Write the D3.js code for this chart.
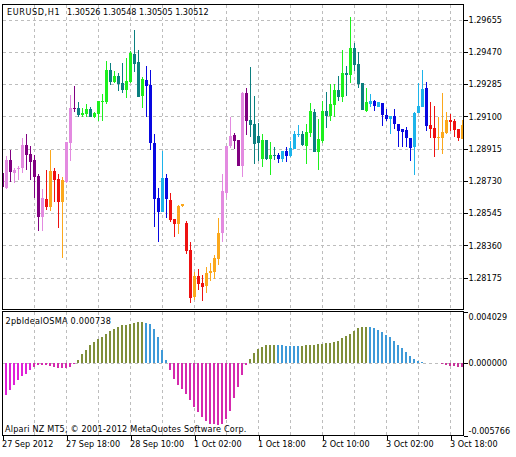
<!DOCTYPE html>
<html><head><meta charset="utf-8">
<script src="https://cdn.jsdelivr.net/npm/d3@7/dist/d3.min.js"></script>
<style>html,body{margin:0;padding:0;background:#fff}svg{display:block}text{font-family:"DejaVu Sans Condensed","DejaVu Sans",sans-serif;font-stretch:condensed;font-size:9px;fill:#000}</style>
</head><body><svg id="c" width="516" height="457"></svg>
<script>
// prices in points (1 point = 0.00001)
const highs=[128799,128873,128908,128804,128816,128976,128999,128931,128879,128770,128684,128793,128908,128804,128770,128753,128953,129223,129275,129183,129149,129172,129154,129126,129189,129229,129418,129407,129361,129349,129407,129435,129476,129596,129481,129326,129390,129367,128999,128690,128902,128770,128661,128512,128592,128598,128500,128380,128208,128225,128191,128237,128260,128305,128518,128770,128931,129097,129005,128965,129240,129263,129384,129217,129063,128999,128965,128953,128925,128890,128902,128925,128959,129017,129051,129017,129057,129177,129143,129086,129189,129240,129286,129286,129332,129481,129390,129671,129521,129470,129292,129263,129229,129194,129183,129177,129143,129103,129143,129057,129028,129040,128976,129126,129292,129367,129298,129183,129160,129097,129235,129126,129114,129086,129028,129080];
const lows=[128695,128684,128724,128718,128735,128776,128793,128735,128632,128443,128443,128563,128558,128609,128460,128288,128718,128844,129126,129097,129097,129097,129097,129091,129074,129074,129172,129281,129292,129246,129235,129206,129292,129355,129212,129149,129097,128908,128466,128380,128552,128518,128495,128409,128426,128581,128311,128030,128047,128105,128041,128087,128156,128168,128248,128380,128632,128919,128913,128816,128753,128994,128982,128827,128844,128810,128850,128764,128850,128833,128839,128839,128867,128913,128982,128931,128827,128982,128896,128793,128948,129034,129074,129097,129189,129183,129217,129292,129361,129263,129137,129126,129154,129131,129154,129045,129074,129000,129028,128925,128925,128925,128844,128764,129120,129154,129017,128976,128867,128908,128885,129000,129017,128982,128959,128971];
const bodyHighs=[128776,128850,128850,128793,128804,128936,128936,128885,128850,128758,128632,128627,128787,128787,128741,128735,128953,129149,129149,129149,129120,129143,129143,129120,129189,129189,129367,129367,129332,129332,129292,129304,129464,129458,129412,129315,129309,129281,128948,128632,128747,128747,128621,128512,128586,128598,128489,128334,128185,128185,128145,128202,128214,128288,128431,128672,128931,128988,128994,128965,129235,129235,129080,129057,128988,128965,128965,128879,128879,128879,128902,128902,128919,128999,128999,128999,129011,129131,129126,128971,129131,129131,129172,129252,129252,129349,129349,129493,129493,129401,129292,129183,129189,129189,129183,129177,129108,129103,129103,129057,129028,129022,128976,129120,129160,129258,129263,129051,129034,128982,129011,129080,129080,129074,129028,129051];
const bodyLows=[128695,128690,128781,128776,128799,128804,128879,128839,128753,128523,128523,128581,128581,128735,128609,128609,128724,128948,129143,129108,129108,129114,129097,129097,129114,129183,129183,129298,129298,129286,129252,129252,129298,129401,129212,129217,129275,128948,128627,128552,128552,128627,128506,128483,128483,128586,128328,128059,128064,128139,128122,128128,128202,128208,128282,128431,128661,128931,128959,128816,128816,129074,129051,128942,128948,128856,128856,128856,128873,128856,128856,128873,128873,128913,128994,128936,128931,129005,128896,128896,128959,129103,129103,129166,129212,129212,129338,129338,129395,129286,129137,129131,129172,129160,129154,129108,129086,129086,129057,129017,129011,128976,128919,128925,129120,129154,129045,129028,128976,128976,128976,129005,129068,129023,128976,128971];
const candleColors="PVPVVVPPPPVRORROVVPTGGTGGGGTGTTGGTTGBBBBSBRROORRORROOOOVVVPPVPTTTGTGTBSBSSSTGGTGGTGGTGTGTTTGSBSBBSBBBBBSSSBRROOORRRO".split("");
// oscillator, millionths; null where no bar is drawn
const osma=[null,-2481,-2090,-1698,-1358,-1045,-836,-522,-313,-183,-131,-131,-235,-313,-366,-418,-418,-313,-78,261,705,1045,1384,1619,1855,2063,2299,2481,2690,2847,2952,3004,3082,3161,3213,3213,3134,3082,2690,2037,1045,261,-522,-1228,-1698,-2011,-2429,-2873,-3474,-3866,-4258,-4571,-4754,-4780,-4884,-4780,-4362,-3735,-2743,-1907,-966,-183,340,784,1097,1280,1384,1437,1437,1437,1410,1358,1358,1358,1332,1332,1384,1437,1437,1463,1489,1541,1593,1646,1750,1959,2090,2299,2534,2743,2847,2847,2847,2716,2560,2403,2220,2011,1698,1437,1175,862,522,313,131,78,26,26,-26,-26,-52,-183,-235,-261,-313,-340];
const priceTicks=[1.29655,1.29470,1.29285,1.29100,1.28915,1.28730,1.28545,1.28360,1.28175];
const osmaTicks=[0.004029,0,-0.005766];
const timeTicks=[[0,"27 Sep 2012"],[16,"27 Sep 18:00"],[32,"28 Sep 10:00"],[48,"1 Oct 02:00"],[64,"1 Oct 18:00"],[80,"2 Oct 10:00"],[96,"3 Oct 02:00"],[112,"3 Oct 18:00"]];
const gridBars=d3.range(8,116,8);
const palette={V:"#E38AE0",P:"#800080",R:"#EE1111",O:"#FBA81C",G:"#1DF01D",T:"#0B7F7F",B:"#0808E0",S:"#1DB4EA"};
const L=2.5,R=463.5,T=4.5,MB=309.5,ST=311.5,SB=435.5;
const svg=d3.select("#c");
const x=d3.scaleLinear().domain([0,115]).range([2.5,462.5]);
const yP=d3.scaleLinear().domain([1.28175,1.29655]).range([277.5,19.5]);
const yO=d3.scaleLinear().domain([-0.005766,0.004029]).range([436.7,311.7]);
const px=v=>v/1e5;
const defs=svg.append("defs");
defs.append("clipPath").attr("id","cm").append("rect").attr("x",L).attr("y",T).attr("width",R-L).attr("height",MB-T);
defs.append("clipPath").attr("id","cs").append("rect").attr("x",L).attr("y",ST).attr("width",R-L).attr("height",SB-ST);
const g=svg.append("g").attr("shape-rendering","crispEdges");
// grid
g.selectAll(".v").data(gridBars).join("line").attr("x1",d=>Math.floor(x(d))+.5).attr("x2",d=>Math.floor(x(d))+.5).attr("y1",T).attr("y2",MB).attr("stroke","#BDBDBD").attr("stroke-dasharray","3,3");
g.selectAll(".v2").data(gridBars).join("line").attr("x1",d=>Math.floor(x(d))+.5).attr("x2",d=>Math.floor(x(d))+.5).attr("y1",ST).attr("y2",SB).attr("stroke","#BDBDBD").attr("stroke-dasharray","3,3");
g.selectAll(".h").data(priceTicks).join("line").attr("x1",L).attr("x2",R).attr("y1",d=>Math.round(yP(d))+.5).attr("y2",d=>Math.round(yP(d))+.5).attr("stroke","#BDBDBD").attr("stroke-dasharray","3,3");
g.append("line").attr("x1",L).attr("x2",R).attr("y1",Math.floor(yO(0))+.5).attr("y2",Math.floor(yO(0))+.5).attr("stroke","#BDBDBD").attr("stroke-dasharray","3,3");
// candles
const cg=g.append("g").attr("clip-path","url(#cm)");
const idx=d3.range(highs.length);
cg.selectAll(".w").data(idx).join("line").attr("x1",i=>Math.floor(x(i))+.5).attr("x2",i=>Math.floor(x(i))+.5).attr("y1",i=>yP(px(highs[i]))).attr("y2",i=>yP(px(lows[i]))).attr("stroke",i=>palette[candleColors[i]]);
cg.selectAll(".b").data(idx).join("rect").attr("x",i=>Math.floor(x(i))-1).attr("width",3).attr("y",i=>yP(px(bodyHighs[i]))).attr("height",i=>Math.max(1,yP(px(bodyLows[i]))-yP(px(bodyHighs[i])))).attr("fill",i=>palette[candleColors[i]]);
// oscillator
const osmaColor=i=>{const v=osma[i];if(v<0)return i<8?"#E020D8":(i>100?"#C8359A":"#D52AAE");
  if(i<36||(i>=62&&i<69)||(i>=75&&i<92))return "#7F8F3A";return "#3F9AD8";};
const sg=g.append("g").attr("clip-path","url(#cs)");
sg.selectAll(".o").data(idx.filter(i=>osma[i]!==null)).join("rect").attr("x",i=>Math.floor(x(i))-1).attr("width",2)
 .attr("y",i=>Math.min(yO(0),yO(osma[i]/1e6))).attr("height",i=>Math.abs(yO(osma[i]/1e6)-yO(0))).attr("fill",osmaColor);
// frames
const frame=svg.append("g").attr("shape-rendering","crispEdges").attr("stroke","#000").attr("fill","none");
frame.append("rect").attr("x",L).attr("y",T).attr("width",R-L).attr("height",MB-T);
frame.append("rect").attr("x",L).attr("y",ST).attr("width",R-L).attr("height",SB-ST);
// axes
const axP=svg.append("g").attr("transform",`translate(${R},0)`).call(d3.axisRight(yP).tickValues(priceTicks).tickFormat(d3.format(".5f")).tickSize(4).tickPadding(1));
const yOTick=d3.scaleLinear().domain([-0.005766,0.004029]).range([SB,ST]);
const axO=svg.append("g").attr("transform",`translate(${R},0)`).call(d3.axisRight(yOTick).tickValues(osmaTicks).tickFormat(d=>d3.format(".6f")(d).replace("\u2212","-")).tickSize(4).tickPadding(1));
axO.selectAll("text").attr("y",d=>d>0?5:(d<0?-5:0));
const axX=d3.axisBottom(x).tickValues(timeTicks.map(d=>d[0])).tickFormat(d=>timeTicks.find(t=>t[0]===d)[1]).tickSize(4).tickPadding(1);
const gx=svg.append("g").attr("transform",`translate(0,${SB})`).call(axX);
gx.selectAll("text").attr("text-anchor","start").attr("dx",-1);
[axP,axO,gx].forEach(a=>{a.select(".domain").remove();a.attr("font-size",null).attr("font-family",null);a.selectAll("line").attr("shape-rendering","crispEdges");});
// labels
svg.append("text").attr("x",7).attr("y",15).style("letter-spacing","0.6px").text("EURUSD,H1");
svg.append("text").attr("x",67).attr("y",15).text("1.30526 1.30548 1.30505 1.30512");
svg.append("text").attr("x",5.5).attr("y",324).style("letter-spacing","0.25px").text("2pbIdealOSMA 0.000738");
svg.append("text").attr("x",5).attr("y",432).style("letter-spacing","0.2px").text("Alpari NZ MT5, © 2001-2012 MetaQuotes Software Corp.");
</script></body></html>
